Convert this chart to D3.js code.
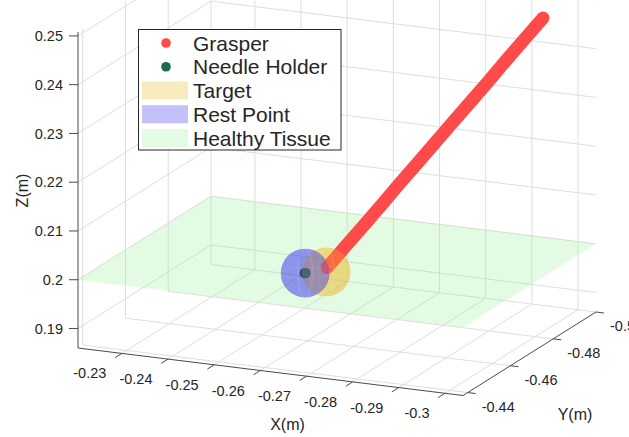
<!DOCTYPE html>
<html><head><meta charset="utf-8">
<script src="https://cdn.jsdelivr.net/npm/d3@7"></script>
<style>body{margin:0;background:#fff}svg{display:block}text{font-family:"Liberation Sans",Arial,Helvetica,sans-serif;fill:#262626}</style>
</head><body><svg id="c" width="629" height="437"></svg>
<script>
// ---- data ----
const xTicks = [-0.23, -0.24, -0.25, -0.26, -0.27, -0.28, -0.29, -0.30];
const xTickLabels = ["-0.23", "-0.24", "-0.25", "-0.26", "-0.27", "-0.28", "-0.29", "-0.3"];
const yTicks = [-0.44, -0.46, -0.48, -0.50];
const yTickLabels = ["-0.44", "-0.46", "-0.48", "-0.5"];
const zTicks = [0.19, 0.20, 0.21, 0.22, 0.23, 0.24, 0.25];
const zTickLabels = ["0.19", "0.2", "0.21", "0.22", "0.23", "0.24", "0.25"];
const xLim = [-0.2205, -0.3039];
const yLim = [-0.4378, -0.5000];
const zLim = [0.186, 0.2508];
const tissueZ = 0.2;
const restPoint = [-0.2597, -0.4594, 0.2000];
const targetPoint = [-0.2632, -0.4617, 0.2000];
const sphereRadius = 0.005;
const needleHolder = [-0.2597, -0.4594, 0.2000];
const grasperX = [-0.2628, -0.2658, -0.2692, -0.2722, -0.2751, -0.2785, -0.2815, -0.2845, -0.2879, -0.2909, -0.2938, -0.2972, -0.3002];
const grasperY = [-0.4630, -0.4646, -0.4664, -0.4681, -0.4697, -0.4715, -0.4731, -0.4747, -0.4765, -0.4782, -0.4798, -0.4816, -0.4832];
const grasperZ = [0.2005, 0.2045, 0.2090, 0.2130, 0.2170, 0.2215, 0.2255, 0.2295, 0.2340, 0.2380, 0.2420, 0.2465, 0.2505];
const legendLabels = ["Grasper", "Needle Holder", "Target", "Rest Point", "Healthy Tissue"];
const axisLabels = ["X(m)", "Y(m)", "Z(m)"];

// ---- projection (orthographic box) ----
const O = [78, 348], EX = [385, 47.5], EY = [133, -83.5], HZ = 316;
const sx = d3.scaleLinear().domain(xLim).range([0, 1]);
const sy = d3.scaleLinear().domain(yLim).range([0, 1]);
const sz = d3.scaleLinear().domain(zLim).range([0, HZ]);
function P(x, y, z) {
  const a = sx(x), b = sy(y), c = sz(z);
  return [O[0] + a * EX[0] + b * EY[0], O[1] + a * EX[1] + b * EY[1] - c];
}
const svg = d3.select("#c");
const grid = svg.append("g").attr("stroke", "rgb(222,222,222)").attr("stroke-width", 1).attr("fill", "none");
function seg(g, p, q) { g.append("line").attr("x1", p[0]).attr("y1", p[1]).attr("x2", q[0]).attr("y2", q[1]); }
const [x0, x1] = xLim, [y0, y1] = yLim, [z0, z1] = zLim;
// floor
xTicks.forEach(x => seg(grid, P(x, y0, z0), P(x, y1, z0)));
yTicks.forEach(y => seg(grid, P(x0, y, z0), P(x1, y, z0)));
// back wall (y = y1)
xTicks.forEach(x => seg(grid, P(x, y1, z0), P(x, y1, z1)));
zTicks.forEach(z => seg(grid, P(x0, y1, z), P(x1, y1, z)));
// left wall (x = x0)
yTicks.forEach(y => seg(grid, P(x0, y, z0), P(x0, y, z1)));
zTicks.forEach(z => seg(grid, P(x0, y0, z), P(x0, y1, z)));

// tissue plane
const plane = [P(x0, y0, tissueZ), P(x1, y0, tissueZ), P(x1, y1, tissueZ), P(x0, y1, tissueZ)];
svg.append("polygon").attr("points", plane.map(p => p.join(",")).join(" "))
  .attr("fill", "rgb(140,240,140)").attr("fill-opacity", 0.252);

const rPx = sz(zLim[0] + sphereRadius);
const blue = "rgb(60,50,240)", yellow = "rgb(235,185,40)";
function sphere(c, col, mesh) {
  const p = P(...c);
  svg.append("circle").attr("cx", p[0]).attr("cy", p[1]).attr("r", rPx).attr("fill", col).attr("fill-opacity", 0.3);
  if (mesh) {
    svg.append("ellipse").attr("cx", p[0]).attr("cy", p[1]).attr("rx", rPx).attr("ry", rPx * 0.22)
      .attr("fill", "none").attr("stroke", "#fff").attr("stroke-opacity", 0.22).attr("stroke-width", 0.8).attr("stroke-dasharray", "2,2");
    svg.append("ellipse").attr("cx", p[0]).attr("cy", p[1]).attr("rx", rPx * 0.3).attr("ry", rPx)
      .attr("fill", "none").attr("stroke", "#fff").attr("stroke-opacity", 0.18).attr("stroke-width", 0.8);
  }
}
sphere(targetPoint, yellow, false);
sphere(restPoint, blue, false);

// grasper trajectory
const gpts = grasperX.map((x, i) => P(x, grasperY[i], grasperZ[i]));
svg.append("path").attr("d", d3.line()(gpts)).attr("fill", "none")
  .attr("stroke", "#ff4a4a").attr("stroke-width", 13).attr("stroke-linecap", "round").attr("stroke-linejoin", "round");
// needle holder
const nh = P(...needleHolder);
svg.append("circle").attr("cx", nh[0]).attr("cy", nh[1]).attr("r", 5.5).attr("fill", "#0f5a44");

sphere(targetPoint, yellow, true);
sphere(restPoint, blue, true);

// axes
const ax = svg.append("g").attr("stroke", "#4a4a4a").attr("stroke-width", 1).attr("fill", "none");
seg(ax, P(x0, y0, z0), P(x1, y0, z0));
seg(ax, P(x1, y0, z0), P(x1, y1, z0));
seg(ax, P(x0, y0, z0), P(x0, y0, z1));
const uY = [-EY[0] / Math.hypot(...EY), -EY[1] / Math.hypot(...EY)];
const uX = [EX[0] / Math.hypot(...EX), EX[1] / Math.hypot(...EX)];
const tl = 8;
const fs = 14.5;
xTicks.forEach((x, i) => {
  const p = P(x, y0, z0);
  seg(ax, p, [p[0] + uY[0] * tl, p[1] + uY[1] * tl]);
  svg.append("text").attr("x", p[0] - 15.5).attr("y", p[1] + 20).attr("dy", "0.35em")
    .attr("text-anchor", "end").attr("font-size", fs).text(xTickLabels[i]);
});
yTicks.forEach((y, i) => {
  const p = P(x1, y, z0);
  seg(ax, p, [p[0] + uX[0] * tl, p[1] + uX[1] * tl]);
  svg.append("text").attr("x", p[0] + 14).attr("y", p[1] + 14).attr("dy", "0.35em")
    .attr("text-anchor", "start").attr("font-size", fs).text(yTickLabels[i]);
});
zTicks.forEach((z, i) => {
  const p = P(x0, y0, z);
  seg(ax, p, [p[0] - 9, p[1]]);
  svg.append("text").attr("x", 63).attr("y", p[1]).attr("dy", "0.35em")
    .attr("text-anchor", "end").attr("font-size", fs).text(zTickLabels[i]);
});
svg.append("text").attr("x", 287.5).attr("y", 430).attr("text-anchor", "middle").attr("font-size", 16).text(axisLabels[0]);
svg.append("text").attr("x", 575).attr("y", 420).attr("text-anchor", "middle").attr("font-size", 16).text(axisLabels[1]);
svg.append("text").attr("transform", "translate(28,190.5) rotate(-90)").attr("text-anchor", "middle").attr("font-size", 16).text(axisLabels[2]);

// legend
const lg = svg.append("g");
lg.append("rect").attr("x", 138.5).attr("y", 29.5).attr("width", 202.5).attr("height", 120.5)
  .attr("fill", "#fff").attr("stroke", "#262626").attr("stroke-width", 1);
const rowY = d3.scaleLinear().domain([0, 4]).range([43, 138]);
const legendStyle = [
  {type: "dot", col: "#ff4a4a"}, {type: "dot", col: "#1b6b50"},
  {type: "patch", col: yellow, op: 0.3}, {type: "patch", col: blue, op: 0.3},
  {type: "patch", col: "rgb(140,240,140)", op: 0.252}];
legendLabels.forEach((lab, i) => {
  const y = rowY(i), s = legendStyle[i];
  if (s.type === "dot") lg.append("circle").attr("cx", 166).attr("cy", y).attr("r", 4.8).attr("fill", s.col);
  else lg.append("rect").attr("x", 142).attr("y", y - 9).attr("width", 46).attr("height", 18).attr("fill", s.col).attr("fill-opacity", s.op);
  lg.append("text").attr("x", 193).attr("y", y).attr("dy", "0.36em").attr("font-size", 21).attr("fill", "#000").text(lab);
});
</script></body></html>
